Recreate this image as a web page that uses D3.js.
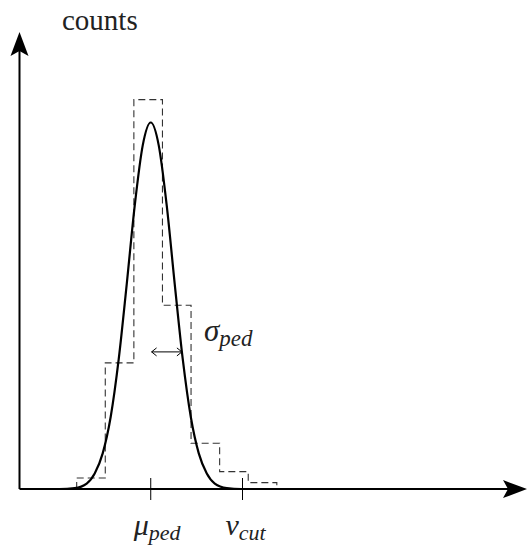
<!DOCTYPE html>
<html>
<head>
<meta charset="utf-8">
<script src="https://cdn.jsdelivr.net/npm/d3@7"></script>
<style>
  html, body { margin: 0; padding: 0; background: #fff; }
  svg { display: block; }
  .lbl { font-family: "Liberation Serif", "DejaVu Serif", "Noto Sans", serif; fill: #222; }
</style>
</head>
<body>
<div id="chart"></div>
<script>
// histogram of pedestal counts (bin edges in channel units)
const binEdges = [2, 3, 4, 5, 6, 7, 8, 9];
const binCounts = [12, 138, 426, 201, 50, 19, 7];

// fitted gaussian
const fitX = [0.3, 1.4, 1.93, 2.35, 2.63, 2.91, 3.19, 3.47, 3.75, 4.03, 4.31, 4.59,
  4.87, 5.15, 5.43, 5.71, 5.99, 6.27, 6.55, 6.83, 7.25, 7.75, 9.0];
const fitY = [0, 0, 1, 6, 17, 39, 79, 142, 224, 310, 376, 401,
  376, 310, 224, 142, 79, 39, 17, 6, 1, 0, 0];

// marked positions on the x axis
const markers = [
  { x: 4.59, sym: 'μ', sub: 'ped' },
  { x: 7.8, sym: 'v', sub: 'cut' },
];
// sigma arrow: from the mean to the curve at this count level
const sigmaArrow = { x0: 4.62, x1: 5.68, y: 150 };

const width = 527, height = 552;
const x = d3.scaleLinear().domain([0, 17.75]).range([19.5, 527]);
const y = d3.scaleLinear().domain([0, 500]).range([489, 32]);

const svg = d3.select('#chart').append('svg')
  .attr('width', width).attr('height', height);

// dashed histogram outline
const histPts = [[binEdges[0], 0]];
binCounts.forEach((c, i) => {
  histPts.push([binEdges[i], c]);
  histPts.push([binEdges[i + 1], c]);
});
histPts.push([binEdges[binEdges.length - 1], 0]);

svg.append('path')
  .attr('d', d3.line().x(d => x(d[0])).y(d => y(d[1]))(histPts))
  .attr('fill', 'none').attr('stroke', '#333').attr('stroke-width', 1.1)
  .attr('stroke-dasharray', '7,4');

// axes
const x0 = x(0), yBase = y(0);
const xEnd = x.range()[1], yTop = y.range()[1];
svg.append('line')
  .attr('x1', x0).attr('y1', yBase).attr('x2', xEnd - 8).attr('y2', yBase)
  .attr('stroke', '#000').attr('stroke-width', 2);
svg.append('line')
  .attr('x1', x0).attr('y1', yBase).attr('x2', x0).attr('y2', yTop + 8)
  .attr('stroke', '#000').attr('stroke-width', 2);

// stealth style arrow heads
svg.append('path')
  .attr('d', `M${x0},${yTop} L${x0 + 9},${yTop + 24} L${x0},${yTop + 19} L${x0 - 9},${yTop + 24} Z`)
  .attr('fill', '#000');
svg.append('path')
  .attr('d', `M${xEnd},${yBase} L${xEnd - 24},${yBase - 9} L${xEnd - 19},${yBase} L${xEnd - 24},${yBase + 9} Z`)
  .attr('fill', '#000');

// gaussian fit
svg.append('path')
  .attr('d', d3.line().x((d, i) => x(fitX[i])).y(d => y(d)).curve(d3.curveMonotoneX)(fitY))
  .attr('fill', 'none').attr('stroke', '#000').attr('stroke-width', 2.2);

// tick marks + labels
markers.forEach(m => {
  svg.append('line')
    .attr('x1', x(m.x)).attr('x2', x(m.x))
    .attr('y1', yBase - 11).attr('y2', yBase + 11)
    .attr('stroke', '#000').attr('stroke-width', 1);
  const t = svg.append('text')
    .attr('class', 'lbl')
    .attr('x', x(m.x) - 17).attr('y', 535)
    .style('font-style', 'italic');
  t.append('tspan').style('font-size', '30px').text(m.sym);
  t.append('tspan').style('font-size', '22px').attr('dy', 5).text(m.sub);
});

// sigma double arrow
const ay = y(sigmaArrow.y), ax0 = x(sigmaArrow.x0), ax1 = x(sigmaArrow.x1);
svg.append('line')
  .attr('x1', ax0).attr('x2', ax1).attr('y1', ay).attr('y2', ay)
  .attr('stroke', '#000').attr('stroke-width', 1);
svg.append('path')
  .attr('d', `M${ax0 + 5},${ay - 4} L${ax0},${ay} L${ax0 + 5},${ay + 4} M${ax1 - 5},${ay - 4} L${ax1},${ay} L${ax1 - 5},${ay + 4}`)
  .attr('fill', 'none').attr('stroke', '#000').attr('stroke-width', 1);

const st = svg.append('text')
  .attr('class', 'lbl')
  .attr('x', 204).attr('y', 341)
  .style('font-style', 'italic');
st.append('tspan').style('font-size', '31px').text('σ');
st.append('tspan').style('font-size', '23px').attr('dy', 5).text('ped');

// y axis title
svg.append('text')
  .attr('class', 'lbl')
  .attr('x', 62).attr('y', 30)
  .style('font-size', '29px')
  .text('counts');
</script>
</body>
</html>
